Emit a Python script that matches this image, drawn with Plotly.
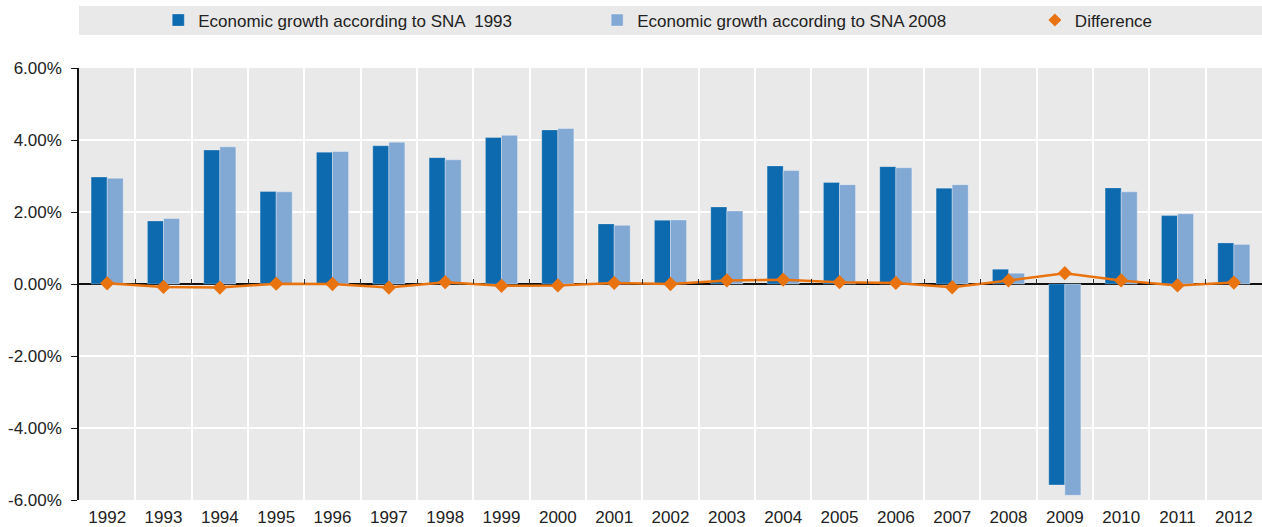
import plotly.graph_objects as go

years = [str(y) for y in range(1992, 2013)]
sna1993 = [2.97, 1.75, 3.72, 2.57, 3.66, 3.84, 3.51, 4.07, 4.28, 1.67, 1.77, 2.14, 3.28, 2.82, 3.26, 2.66, 0.41, -5.58, 2.67, 1.90, 1.14]
sna2008 = [2.94, 1.82, 3.81, 2.56, 3.68, 3.94, 3.45, 4.13, 4.32, 1.63, 1.78, 2.03, 3.15, 2.76, 3.23, 2.76, 0.30, -5.87, 2.56, 1.95, 1.10]
difference = [0.02, -0.08, -0.10, 0.01, 0.00, -0.10, 0.05, -0.05, -0.04, 0.03, 0.00, 0.10, 0.12, 0.05, 0.03, -0.09, 0.10, 0.30, 0.10, -0.04, 0.04]
y_tickvals = [-6, -4, -2, 0, 2, 4, 6]
y_ticktext = ["-6.00%", "-4.00%", "-2.00%", "0.00%", "2.00%", "4.00%", "6.00%"]

C93 = "#0e6aae"
C08 = "#82a8d4"
CD = "#e8730f"
FONT = "Liberation Sans, Arial, sans-serif"

fig = go.Figure()
fig.add_trace(go.Bar(x=years, y=sna1993, name="Economic growth according to SNA  1993", legend="legend",
                     marker=dict(color=C93, line=dict(color="rgba(255,255,255,0.25)", width=1))))
fig.add_trace(go.Bar(x=years, y=sna2008, name="Economic growth according to SNA 2008", legend="legend2",
                     marker=dict(color=C08, line=dict(color="rgba(255,255,255,0.35)", width=1))))
fig.add_trace(go.Scatter(x=years, y=difference, name="Difference", mode="lines+markers",
                         line=dict(color=CD, width=2.5), marker=dict(symbol="diamond", size=11, color=CD),
                         showlegend=False, legendgroup="d"))
fig.add_trace(go.Scatter(x=[None], y=[None], name="Difference", mode="markers", legend="legend3",
                         marker=dict(symbol="diamond", size=10, color=CD), legendgroup="d"))
# invisible trace to carry boundary ticks along the zero line
fig.add_trace(go.Scatter(x=years, y=[None] * len(years), xaxis="x2", showlegend=False, hoverinfo="skip"))

leg_common = dict(orientation="h", yref="container", y=0.961, yanchor="middle", xanchor="left",
                  bgcolor="rgba(0,0,0,0)", font=dict(size=17, family=FONT, color="#222"), itemwidth=30)

fig.update_layout(
    width=1262, height=527,
    margin=dict(l=79, r=0, t=68, b=27, autoexpand=False),
    paper_bgcolor="white", plot_bgcolor="#e9e9e9",
    font=dict(family=FONT, size=17, color="#222"),
    barmode="group", bargap=0.43, bargroupgap=0,
    showlegend=True,
    legend=dict(x=0.067, **leg_common),
    legend2=dict(x=0.438, **leg_common),
    legend3=dict(x=0.808, **leg_common),
    xaxis=dict(type="category", tickson="boundaries", showgrid=True, gridcolor="white", gridwidth=1.5,
               ticks="", showline=False, tickfont=dict(size=17), range=[-0.5, 20.5], ticklabelstandoff=5),
    xaxis2=dict(type="category", overlaying="x", anchor="free", position=0.5, tickson="boundaries",
                ticks="inside", ticklen=5, tickcolor="#333", showticklabels=False, showgrid=False,
                showline=False, range=[-0.5, 20.5], matches="x"),
    yaxis=dict(range=[-6, 6], tickvals=y_tickvals, ticktext=y_ticktext, showgrid=True,
               gridcolor="white", gridwidth=1.5, zeroline=True, zerolinecolor="#111", zerolinewidth=1.5,
               showline=True, linecolor="#111", linewidth=1.5, ticks="outside", ticklen=6,
               tickcolor="#111", tickfont=dict(size=17), ticklabelstandoff=6),
    shapes=[dict(type="rect", xref="paper", yref="paper", x0=0, x1=1, y0=1.0764, y1=1.1435,
                 fillcolor="#e9e9e9", line=dict(width=0), layer="below")],
)

fig.write_html("out.html", config={"displayModeBar": False},
               post_script="document.body.style.margin='0';document.body.style.overflow='hidden';")
